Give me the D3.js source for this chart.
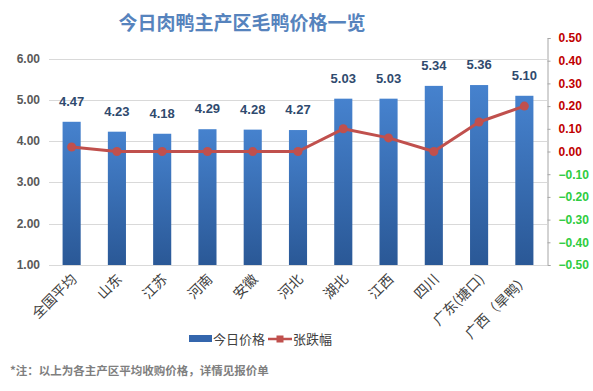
<!DOCTYPE html>
<html>
<head>
<meta charset="utf-8">
<script src="https://cdn.jsdelivr.net/npm/d3@7"></script>
<style>
  body { margin: 0; background: #fff; }
  svg { display: block; font-family: "Microsoft YaHei", "Noto Sans CJK SC", sans-serif; }
</style>
</head>
<body>
<svg id="chart" width="593" height="391"></svg>
<script>
// data
var regions = ["全国平均", "山东", "江苏", "河南", "安徽", "河北", "湖北", "江西", "四川", "广东(塘口)", "广西（旱鸭）"];
var prices = [4.47, 4.23, 4.18, 4.29, 4.28, 4.27, 5.03, 5.03, 5.34, 5.36, 5.10];
var changes = [0.02, 0.00, 0.00, 0.00, 0.00, 0.00, 0.10, 0.06, 0.00, 0.13, 0.20];
var leftTicks = [1, 2, 3, 4, 5, 6];
var rightTicks = [0.5, 0.4, 0.3, 0.2, 0.1, 0, -0.1, -0.2, -0.3, -0.4, -0.5];

var svg = d3.select('#chart');
var plot = {left: 49, right: 547, top: 38, bottom: 265};

var defs = svg.append('defs');
var grad = defs.append('linearGradient').attr('id', 'barGrad')
  .attr('x1', 0).attr('y1', 0).attr('x2', 0).attr('y2', 1);
grad.append('stop').attr('offset', '0%').attr('stop-color', '#4682ce');
grad.append('stop').attr('offset', '100%').attr('stop-color', '#2a5896');

var x = d3.scaleBand().domain(regions).range([plot.left, plot.right]).paddingInner(0).paddingOuter(0);
var yL = d3.scaleLinear().domain([1, 6.5]).range([plot.bottom, plot.top]);
var yR = d3.scaleLinear().domain([-0.5, 0.5]).range([plot.bottom, plot.top]);

// title
svg.append('text').attr('x', 242).attr('y', 30).attr('text-anchor', 'middle')
  .attr('font-size', 19).attr('font-weight', 'bold').attr('fill', '#5683bd')
  .text('今日肉鸭主产区毛鸭价格一览');

// gridlines
svg.append('g').selectAll('line').data(leftTicks).enter().append('line')
  .attr('x1', plot.left).attr('x2', plot.right)
  .attr('y1', function(d){ return Math.round(yL(d)) + 0.5; })
  .attr('y2', function(d){ return Math.round(yL(d)) + 0.5; })
  .attr('stroke', '#d9d9d9').attr('stroke-width', 1);

// left axis labels
svg.append('g').selectAll('text').data(leftTicks).enter().append('text')
  .attr('x', 40).attr('y', function(d){ return yL(d) + 4; })
  .attr('text-anchor', 'end').attr('font-size', 12).attr('font-weight', 'bold')
  .attr('fill', '#595959').attr('font-family', 'Liberation Sans, Arial, sans-serif')
  .text(function(d){ return d3.format('.2f')(d); });

// right axis
var rAxis = d3.axisRight(yR).tickValues(rightTicks).tickSize(3).tickFormat(d3.format('.2f'));
var rg = svg.append('g').attr('transform', 'translate(' + (plot.right + 0.5) + ',0)').call(rAxis);
rg.select('.domain').attr('stroke', '#a6a6a6');
rg.selectAll('.tick line').attr('stroke', '#a6a6a6');
rg.selectAll('.tick text')
  .attr('x', 11)
  .attr('font-size', 12).attr('font-weight', 'bold')
  .attr('font-family', 'Liberation Sans, Arial, sans-serif')
  .attr('fill', function(d){ return d < 0 ? '#2ecc40' : '#c00000'; });

// bars
var bw = x.bandwidth() * 0.4;
svg.append('g').selectAll('rect').data(prices).enter().append('rect')
  .attr('x', function(d, i){ return x(regions[i]) + (x.bandwidth() - bw) / 2; })
  .attr('y', function(d){ return yL(d); })
  .attr('width', bw)
  .attr('height', function(d){ return yL(1) - yL(d); })
  .attr('fill', 'url(#barGrad)');

// bar value labels
svg.append('g').selectAll('text').data(prices).enter().append('text')
  .attr('x', function(d, i){ return x(regions[i]) + x.bandwidth() / 2; })
  .attr('y', function(d){ return yL(d) - 16; })
  .attr('text-anchor', 'middle').attr('font-size', 13).attr('font-weight', 'bold')
  .attr('font-family', 'Liberation Sans, Arial, sans-serif')
  .attr('fill', '#2f4a6e')
  .text(function(d){ return d3.format('.2f')(d); });

// change line
var line = d3.line()
  .x(function(d, i){ return x(regions[i]) + x.bandwidth() / 2; })
  .y(function(d){ return yR(d); });
svg.append('path').datum(changes).attr('d', line)
  .attr('fill', 'none').attr('stroke', '#c0504d').attr('stroke-width', 3)
  .attr('stroke-linejoin', 'round');
svg.append('g').selectAll('circle').data(changes).enter().append('circle')
  .attr('cx', function(d, i){ return x(regions[i]) + x.bandwidth() / 2; })
  .attr('cy', function(d){ return yR(d); })
  .attr('r', 4.5).attr('fill', '#c0504d');

// category labels
svg.append('g').selectAll('text').data(regions).enter().append('text')
  .attr('transform', function(d){
    return 'translate(' + (x(d) + x.bandwidth() / 2 + 6) + ',280) rotate(-45)';
  })
  .attr('text-anchor', 'end').attr('font-size', 14).attr('fill', '#404040')
  .text(function(d){ return d; });

// legend
var lg = svg.append('g');
lg.append('rect').attr('x', 189).attr('y', 335).attr('width', 23).attr('height', 7).attr('fill', '#3466ad');
lg.append('text').attr('x', 213).attr('y', 344).attr('font-size', 13).attr('fill', '#404040').text('今日价格');
lg.append('line').attr('x1', 268).attr('x2', 292).attr('y1', 339).attr('y2', 339)
  .attr('stroke', '#c0504d').attr('stroke-width', 2.5);
lg.append('rect').attr('x', 276.5).attr('y', 335.5).attr('width', 7).attr('height', 7).attr('fill', '#c0504d');
lg.append('text').attr('x', 293).attr('y', 344).attr('font-size', 13).attr('fill', '#404040').text('张跌幅');

// footnote
svg.append('text').attr('x', 10).attr('y', 375).attr('font-size', 11.5).attr('font-weight', 'bold')
  .attr('fill', '#7f7f7f').text('*注：以上为各主产区平均收购价格，详情见报价单');
</script>
</body>
</html>
